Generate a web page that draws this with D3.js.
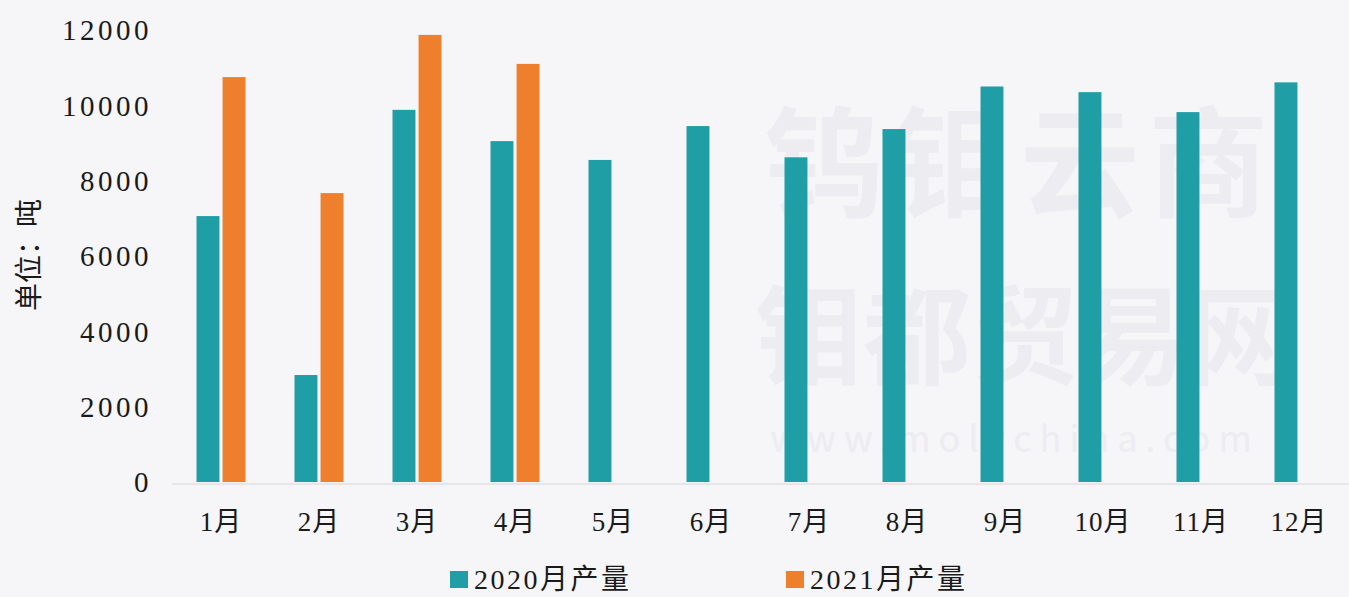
<!DOCTYPE html>
<html><head><meta charset="utf-8">
<script src="https://cdn.jsdelivr.net/npm/d3@7/dist/d3.min.js"></script>
<style>
html,body{margin:0;padding:0;background:#f6f5f8;}
svg{display:block;}
</style></head>
<body><svg id="chart" width="1349" height="597"></svg>
<script>
const months = ["1月","2月","3月","4月","5月","6月","7月","8月","9月","10月","11月","12月"];
const seriesNames = ["2020月产量","2021月产量"];
const values2020 = [7060,2840,9880,9050,8550,9450,8620,9370,10500,10350,9820,10610];
const values2021 = [10750,7670,11870,11100,null,null,null,null,null,null,null,null];
const yTicks = [0,2000,4000,6000,8000,10000,12000];
const colors = ["#1f9ea6","#ee7f2d"];

const svg = d3.select("#chart");
const W = 1349, H = 597;
const m = {left:172, right:1, top:30, bottom:115};
const x = d3.scaleBand().domain(months).range([m.left, W - m.right]).paddingInner(0.5).paddingOuter(0.25);
const xs = d3.scaleBand().domain(seriesNames).range([0, x.bandwidth()]).paddingInner(0.12);
const y = d3.scaleLinear().domain([0,12000]).range([482, 30]);

const fontSerif = "'Liberation Serif','DejaVu Serif','Noto Sans CJK SC',serif";

// faint watermark
const wm = svg.append("g").attr("fill","#edecf0").attr("font-family","'Noto Sans CJK SC',sans-serif").attr("font-weight","bold");
wm.append("text").attr("x",1020).attr("y",208).attr("text-anchor","middle").attr("font-size",120).attr("letter-spacing",8).text("钨钼云商");
wm.append("text").attr("x",1025).attr("y",376).attr("text-anchor","middle").attr("font-size",108).attr("letter-spacing",0).text("钼都贸易网");
wm.append("text").attr("x",1015).attr("y",452).attr("text-anchor","middle").attr("font-size",36).attr("font-weight","normal").attr("letter-spacing",8).text("www.molychina.com");

// axis line
svg.append("line").attr("x1",m.left).attr("x2",W).attr("y1",y(0)+2).attr("y2",y(0)+2).attr("stroke","#d6d6d8").attr("stroke-width",1.2);

// y axis
const yAxis = d3.axisLeft(y).tickValues(yTicks).tickSize(0).tickPadding(0).tickFormat(d3.format("d"));
const gy = svg.append("g").attr("transform","translate(152,0)").call(yAxis);
gy.select(".domain").remove();
gy.selectAll("text").attr("font-family",fontSerif).attr("font-size",29).attr("fill","#1a1a1a").attr("letter-spacing",3.5).attr("dy","0.34em");

// x axis
const xAxis = d3.axisBottom(x).tickSize(0).tickPadding(0);
const gx = svg.append("g").attr("transform",`translate(0,${y(0)})`).call(xAxis);
gx.select(".domain").remove();
gx.selectAll("text").attr("font-family",fontSerif).attr("font-size",27).attr("fill","#1a1a1a").attr("y",0).attr("dy","1.8em").attr("letter-spacing",1);

// bars
const data = months.map((mo,i)=>({month:mo, vals:[values2020[i], values2021[i]]}));
const groups = svg.append("g").selectAll("g").data(data).join("g").attr("transform",d=>`translate(${x(d.month)},0)`);
groups.selectAll("rect").data(d=>d.vals.map((v,j)=>({v, j})).filter(e=>e.v!=null)).join("rect")
  .attr("x",e=>xs(seriesNames[e.j]))
  .attr("width",xs.bandwidth())
  .attr("y",e=>y(e.v))
  .attr("height",e=>y(0)-y(e.v))
  .attr("fill",e=>colors[e.j]);

// y title
svg.append("text").attr("transform","translate(29,255) rotate(-90)").attr("text-anchor","middle").attr("dy","0.35em")
  .attr("font-family","'Noto Sans CJK SC',serif").attr("font-size",28).attr("fill","#1a1a1a").text("单位：吨");

// legend
const legendX = [450, 786];
const lg = svg.append("g").selectAll("g").data(seriesNames).join("g").attr("transform",(d,i)=>`translate(${legendX[i]},571)`);
lg.append("rect").attr("width",18).attr("height",17).attr("fill",(d,i)=>colors[i]);
lg.append("text").attr("x",24).attr("y",8).attr("dy","0.36em").attr("font-family",fontSerif).attr("font-size",28).attr("fill","#1a1a1a").attr("letter-spacing",2.5).text(d=>d);
</script></body></html>
